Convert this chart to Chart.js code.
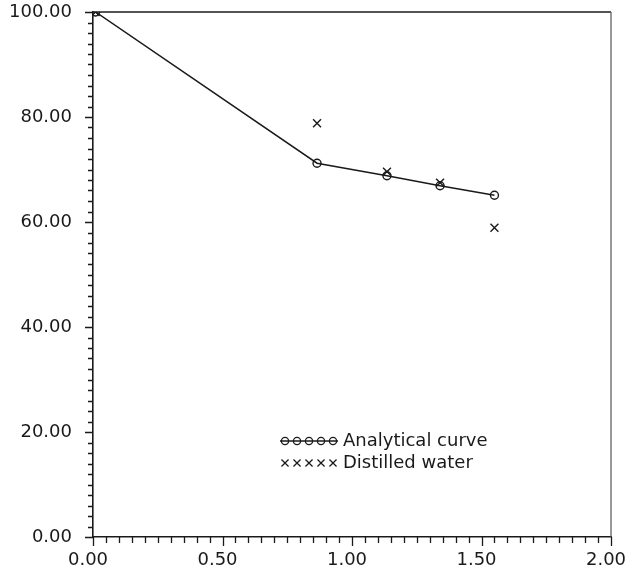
<!DOCTYPE html>
<html>
<head>
<meta charset="utf-8">
<script src="https://cdn.jsdelivr.net/npm/chart.js@4/dist/chart.umd.min.js"></script>
<style>
html,body{margin:0;padding:0;background:#fff;}
#wrap{width:629px;height:573px;position:relative;}
</style>
</head>
<body>
<div id="wrap"><canvas id="c" width="629" height="573"></canvas></div>
<script>
// ---- data ----
const xValues = [0.01, 0.865, 1.135, 1.34, 1.55];
const analyticalCurve = [100, 71.2, 68.8, 66.9, 65.1];
const distilledWater = [100, 78.8, 69.6, 67.5, 58.9];
const seriesNames = ['Analytical curve', 'Distilled water'];
const xTickValues = [0, 0.5, 1.0, 1.5, 2.0];
const yTickValues = [0, 20, 40, 60, 80, 100];

const INK = '#1a1a1a';
const FONT = {family: 'DejaVu Sans', size: 18, weight: 'normal'};

const toPts = (ys) => xValues.map((x, i) => ({x: x, y: ys[i]}));

const decor = {
  id: 'decor',
  afterDraw(chart) {
    const ctx = chart.ctx, a = chart.chartArea;
    const xs = chart.scales.x, ys = chart.scales.y;
    ctx.save();
    ctx.strokeStyle = INK;
    // frame top & right
    ctx.lineWidth = 1.4;
    ctx.beginPath();
    ctx.moveTo(a.left, a.top); ctx.lineTo(a.right, a.top);
    ctx.stroke();
    ctx.strokeStyle = '#555';
    ctx.lineWidth = 1.2;
    ctx.beginPath();
    ctx.moveTo(a.right, a.top); ctx.lineTo(a.right, a.bottom);
    ctx.stroke();
    // minor/major ticks
    ctx.strokeStyle = INK;
    ctx.lineWidth = 1.3;
    ctx.beginPath();
    for (let i = 0; i <= 40; i++) {
      const px = Math.round(xs.getPixelForValue(i * 0.05)) + 0.5;
      const len = (i % 10 === 0) ? 9 : 6;
      ctx.moveTo(px, a.bottom); ctx.lineTo(px, a.bottom + len);
    }
    for (let i = 0; i <= 50; i++) {
      const py = Math.round(ys.getPixelForValue(i * 2)) + 0.5;
      const len = (i % 10 === 0) ? 8 : 5;
      ctx.moveTo(a.left, py); ctx.lineTo(a.left - len, py);
    }
    ctx.stroke();
    // legend inside the plot
    const lx = a.left + 187, ly1 = a.top + 429, ly2 = ly1 + 22;
    ctx.lineWidth = 1.3;
    ctx.beginPath();
    ctx.moveTo(lx, ly1); ctx.lineTo(lx + 58, ly1);
    ctx.stroke();
    ctx.fillStyle = 'rgba(0,0,0,0)';
    const ds = chart.data.datasets;
    for (let k = 0; k < 5; k++) {
      const cx = lx + 5 + k * 12;
      Chart.helpers.drawPoint(ctx, {pointStyle: 'circle', radius: 3.6, borderWidth: 1.3}, cx, ly1);
      Chart.helpers.drawPoint(ctx, {pointStyle: 'crossRot', radius: 5, borderWidth: 1.1}, cx, ly2);
    }
    ctx.fillStyle = INK;
    ctx.font = `${FONT.size}px "${FONT.family}"`;
    ctx.textBaseline = 'middle';
    ctx.textAlign = 'left';
    ctx.fillText(ds[0].label, lx + 63, ly1);
    ctx.fillText(ds[1].label, lx + 63, ly2);
    ctx.restore();
  }
};

new Chart(document.getElementById('c'), {
  type: 'scatter',
  data: {
    datasets: [
      {
        label: seriesNames[0],
        data: toPts(analyticalCurve),
        showLine: true,
        borderColor: INK,
        borderWidth: 1.5,
        backgroundColor: 'rgba(0,0,0,0)',
        pointStyle: 'circle',
        pointRadius: 4,
        pointBorderWidth: 1.4,
        pointBorderColor: INK,
        pointBackgroundColor: 'rgba(0,0,0,0)'
      },
      {
        label: seriesNames[1],
        data: toPts(distilledWater),
        showLine: false,
        borderColor: INK,
        backgroundColor: 'rgba(0,0,0,0)',
        pointStyle: 'crossRot',
        pointRadius: 5.6,
        pointBorderWidth: 1.4,
        pointBorderColor: INK
      }
    ]
  },
  options: {
    responsive: false,
    animation: false,
    events: [],
    layout: {padding: {left: 0, right: 18, top: 12, bottom: 0}},
    plugins: {legend: {display: false}, tooltip: {enabled: false}},
    scales: {
      x: {
        type: 'linear', min: 0, max: 2,
        afterBuildTicks: (s) => { s.ticks = xTickValues.map(v => ({value: v})); },
        ticks: {
          callback: (v) => Number(v).toFixed(2),
          font: FONT, color: INK, padding: 5, maxRotation: 0, autoSkip: false,
          labelOffset: -5
        },
        grid: {display: false},
        border: {display: true, color: INK, width: 1.6},
        afterFit: (s) => { s.height = 36; s.paddingLeft = 0; s.paddingRight = 0; }
      },
      y: {
        type: 'linear', min: 0, max: 100,
        afterBuildTicks: (s) => { s.ticks = yTickValues.map(v => ({value: v})); },
        ticks: {
          callback: (v) => Number(v).toFixed(2),
          font: FONT, color: INK, padding: 13, autoSkip: false
        },
        grid: {display: false},
        border: {display: true, color: INK, width: 1.6},
        afterFit: (s) => { s.width = 93; s.paddingTop = 0; s.paddingBottom = 0; }
      }
    }
  },
  plugins: [decor]
});
</script>
</body>
</html>
